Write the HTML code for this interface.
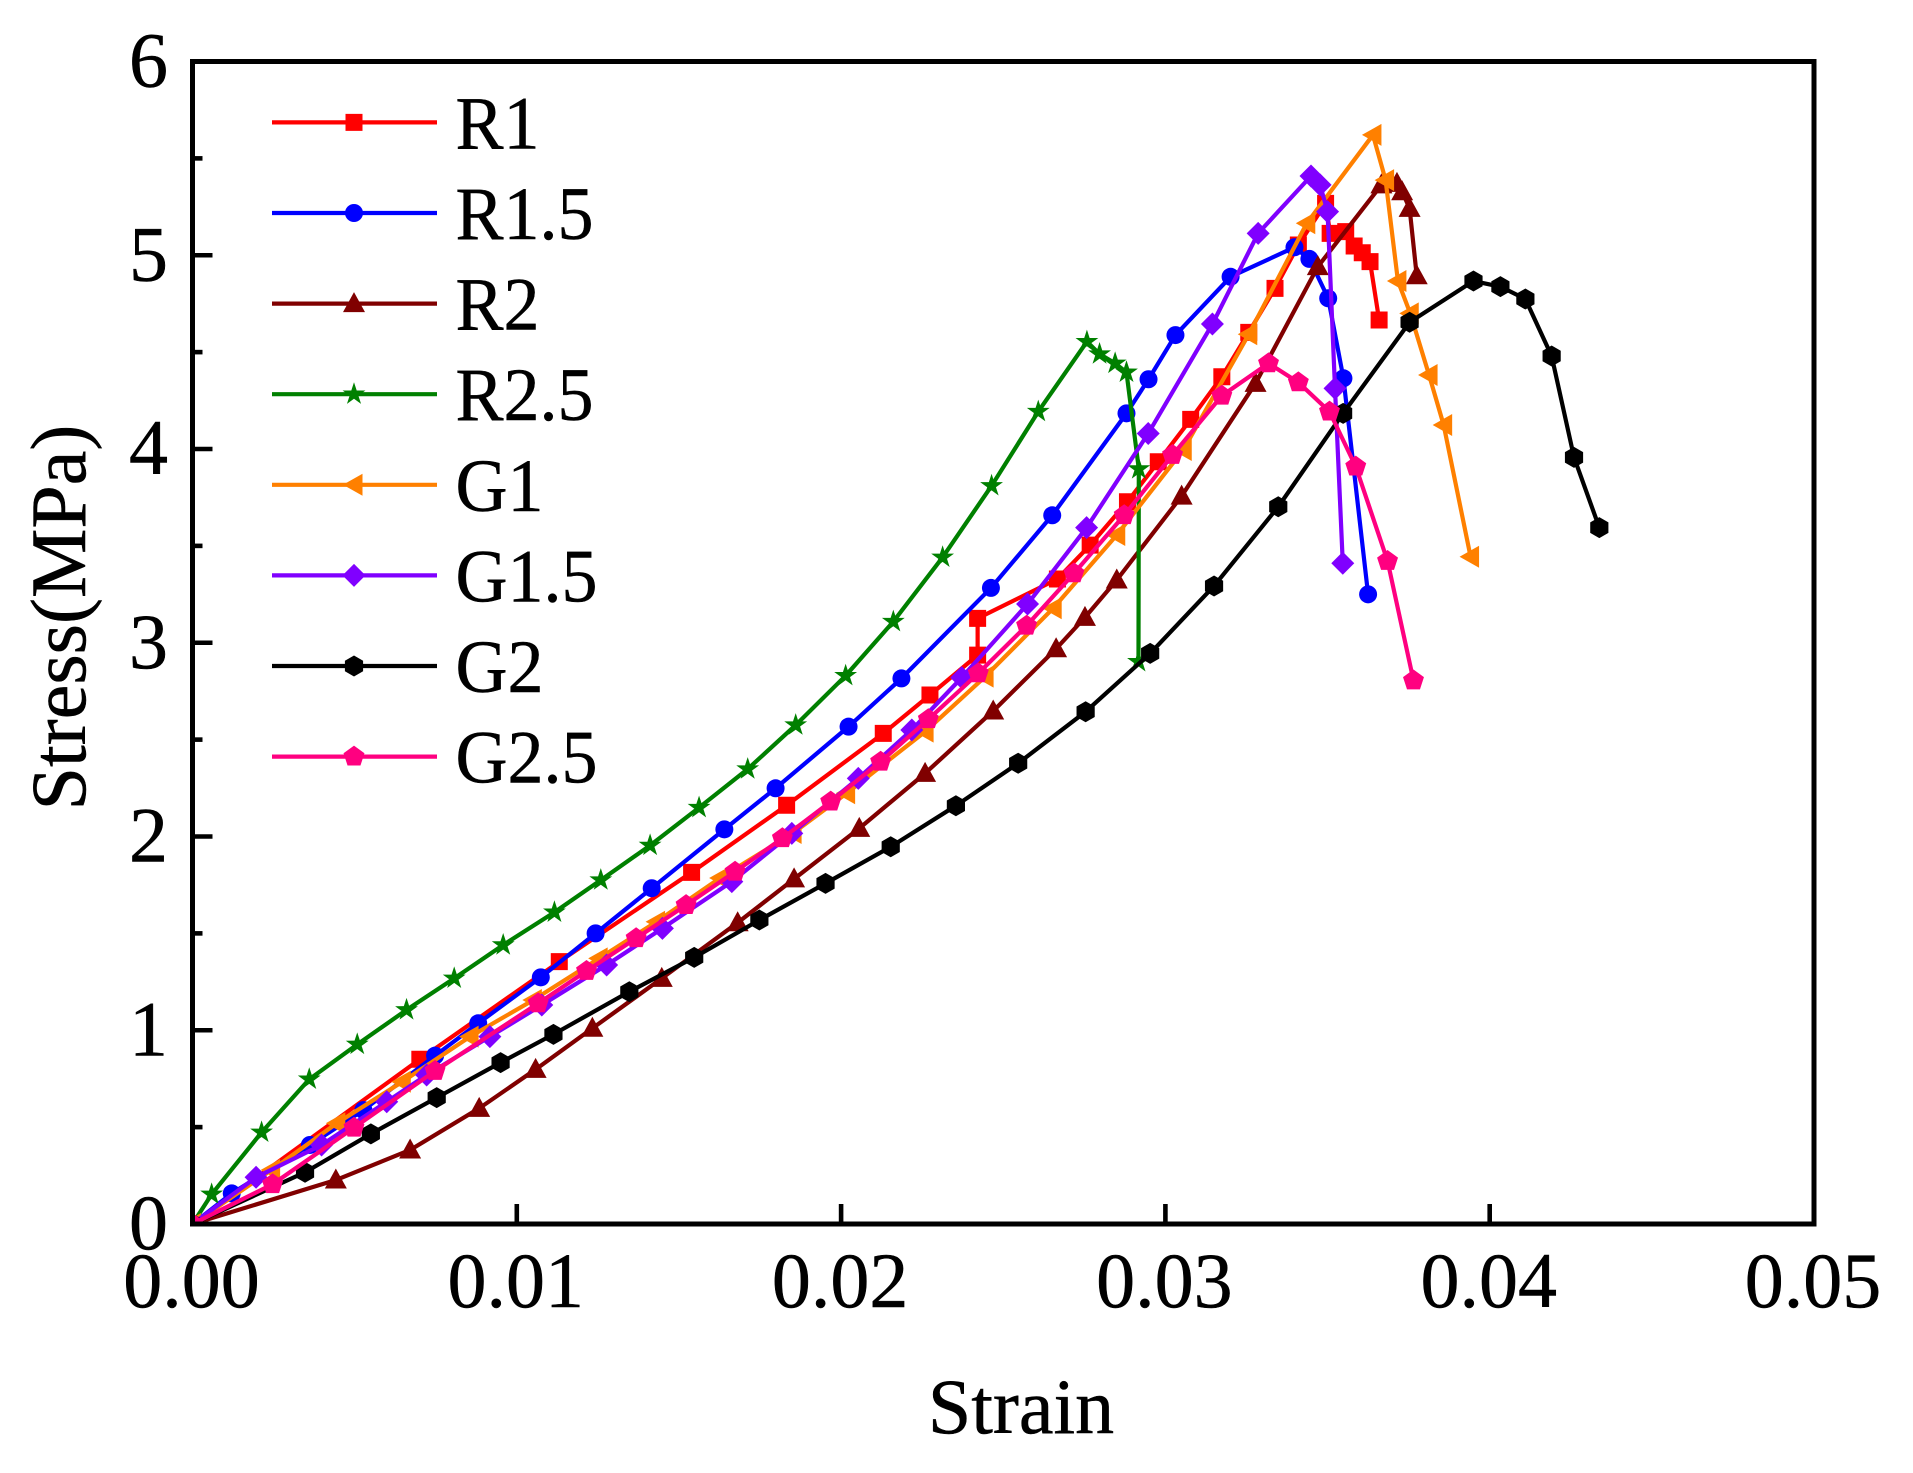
<!DOCTYPE html>
<html lang="en">
<head>
<meta charset="utf-8">
<title>Stress-strain curves</title>
<style>
  html, body { margin: 0; padding: 0; background: #fff; }
  svg { display: block; }
  text { font-family: "Liberation Serif", "Times New Roman", serif; fill: #000; stroke: #000; stroke-width: 0.5px; }
</style>
</head>
<body>
<svg id="chart" xmlns="http://www.w3.org/2000/svg" width="1913" height="1473" viewBox="0 0 1913 1473">
  <rect x="0" y="0" width="1913" height="1473" fill="#ffffff"/>
  <defs><clipPath id="plot-clip"><rect x="192.5" y="61.5" width="1621.5" height="1162.5"/></clipPath></defs>
  <g id="series-layer" clip-path="url(#plot-clip)"></g>
  <rect x="192.5" y="61.5" width="1621.5" height="1162.5" fill="none" stroke="#000" stroke-width="5"/>
  <g id="axis-layer"></g>
  <text x="1021" y="1433" font-size="78" text-anchor="middle">Strain</text>
  <text transform="translate(85 617.5) rotate(-90)" font-size="78" text-anchor="middle">Stress(MPa)</text>
  <g id="legend-layer"></g>
</svg>
<script>
const xTickValues = [0, 0.01, 0.02, 0.03, 0.04, 0.05];
const xTickLabels = ["0.00", "0.01", "0.02", "0.03", "0.04", "0.05"];
const yTickValues = [0, 1, 2, 3, 4, 5, 6];
const yTickLabels = ["0", "1", "2", "3", "4", "5", "6"];
const yMinorTickValues = [0.5, 1.5, 2.5, 3.5, 4.5, 5.5];
const seriesNames = ["R1", "R1.5", "R2", "R2.5", "G1", "G1.5", "G2", "G2.5"];

const r1Strain = [0, 0.00701, 0.01131, 0.01539, 0.01832, 0.0213, 0.02274, 0.02421, 0.02421, 0.02667, 0.02768, 0.02883, 0.02978, 0.03078, 0.03174, 0.03257, 0.03338, 0.0341, 0.03494, 0.03508, 0.03556, 0.03582, 0.03607, 0.03631, 0.03659];
const r1Stress = [0, 0.85, 1.354, 1.815, 2.161, 2.532, 2.73, 2.936, 3.126, 3.329, 3.504, 3.728, 3.934, 4.153, 4.373, 4.602, 4.829, 5.053, 5.268, 5.113, 5.122, 5.048, 5.013, 4.967, 4.666];

const r15Strain = [0, 0.00121, 0.00362, 0.00527, 0.00748, 0.00881, 0.01074, 0.01243, 0.01416, 0.0164, 0.01798, 0.02023, 0.02186, 0.02462, 0.02651, 0.0288, 0.02948, 0.03031, 0.03201, 0.03398, 0.03444, 0.03502, 0.03549, 0.03625];
const r15Stress = [0, 0.158, 0.408, 0.588, 0.869, 1.036, 1.273, 1.5, 1.733, 2.037, 2.249, 2.567, 2.816, 3.283, 3.658, 4.184, 4.36, 4.588, 4.889, 5.041, 4.981, 4.778, 4.365, 3.25];

const r2Strain = [0, 0.00442, 0.00671, 0.00884, 0.01058, 0.01233, 0.01447, 0.01681, 0.01855, 0.02056, 0.02259, 0.02469, 0.02663, 0.02752, 0.0285, 0.0305, 0.03278, 0.0347, 0.03666, 0.03714, 0.0373, 0.03753, 0.03775];
const r2Stress = [0, 0.227, 0.382, 0.597, 0.798, 1.01, 1.268, 1.555, 1.781, 2.042, 2.326, 2.648, 2.969, 3.131, 3.324, 3.757, 4.339, 4.941, 5.363, 5.371, 5.328, 5.242, 4.894];

const r25Strain = [0, 0.00059, 0.00213, 0.0036, 0.00508, 0.0066, 0.00807, 0.00958, 0.01116, 0.01259, 0.01411, 0.01562, 0.01712, 0.0186, 0.02014, 0.02161, 0.02313, 0.02464, 0.02608, 0.02758, 0.02797, 0.02845, 0.0288, 0.02918, 0.02917];
const r25Stress = [0, 0.153, 0.473, 0.747, 0.927, 1.105, 1.268, 1.44, 1.609, 1.775, 1.954, 2.149, 2.348, 2.575, 2.83, 3.109, 3.441, 3.81, 4.193, 4.554, 4.49, 4.442, 4.396, 3.897, 2.902];

const g1Strain = [0, 0.00244, 0.00445, 0.00647, 0.00856, 0.01051, 0.01254, 0.01431, 0.01627, 0.01852, 0.02017, 0.02259, 0.02444, 0.02654, 0.0285, 0.03055, 0.03257, 0.03436, 0.0364, 0.03679, 0.03717, 0.03755, 0.03813, 0.03858, 0.03941];
const g1Stress = [0, 0.279, 0.52, 0.734, 0.967, 1.156, 1.371, 1.56, 1.786, 2.018, 2.223, 2.541, 2.825, 3.178, 3.556, 3.995, 4.592, 5.165, 5.621, 5.388, 4.867, 4.7, 4.382, 4.124, 3.444];

const g15Strain = [0, 0.00196, 0.00398, 0.00599, 0.00722, 0.00917, 0.01077, 0.01277, 0.01449, 0.01663, 0.01848, 0.02053, 0.02218, 0.02372, 0.02575, 0.02757, 0.02947, 0.03145, 0.03286, 0.03449, 0.03477, 0.035, 0.03523, 0.03547];
const g15Stress = [0, 0.241, 0.408, 0.631, 0.769, 0.967, 1.13, 1.337, 1.526, 1.767, 2.016, 2.3, 2.55, 2.82, 3.2, 3.594, 4.08, 4.645, 5.113, 5.409, 5.363, 5.225, 4.313, 3.41];

const g2Strain = [0, 0.00347, 0.0055, 0.00753, 0.0095, 0.01113, 0.01347, 0.01547, 0.01748, 0.01952, 0.02153, 0.02354, 0.02546, 0.02754, 0.02953, 0.0315, 0.03348, 0.03548, 0.03753, 0.0395, 0.04033, 0.0411, 0.04191, 0.0426, 0.04338];
const g2Stress = [0, 0.267, 0.465, 0.652, 0.833, 0.979, 1.199, 1.376, 1.569, 1.758, 1.947, 2.159, 2.378, 2.644, 2.945, 3.293, 3.702, 4.184, 4.654, 4.867, 4.838, 4.774, 4.48, 3.957, 3.594];

const g25Strain = [0, 0.00247, 0.00498, 0.00748, 0.01066, 0.01215, 0.01368, 0.01522, 0.01673, 0.01819, 0.01968, 0.02122, 0.02269, 0.02423, 0.02572, 0.02718, 0.02873, 0.03022, 0.03174, 0.03318, 0.0341, 0.03506, 0.03587, 0.03685, 0.03765];
const g25Stress = [0, 0.205, 0.497, 0.79, 1.139, 1.306, 1.475, 1.646, 1.818, 1.991, 2.18, 2.386, 2.605, 2.842, 3.088, 3.358, 3.658, 3.969, 4.275, 4.442, 4.344, 4.193, 3.909, 3.422, 2.805];

const strainSeries = [r1Strain, r15Strain, r2Strain, r25Strain, g1Strain, g15Strain, g2Strain, g25Strain];
const stressSeries = [r1Stress, r15Stress, r2Stress, r25Stress, g1Stress, g15Stress, g2Stress, g25Stress];
const seriesColors = ["#ff0000", "#0000ff", "#800000", "#008000", "#ff8000", "#8000ff", "#000000", "#ff0080"];
const seriesShapes = ["square", "circle", "triangle", "star", "leftTriangle", "diamond", "hexagon", "pentagon"];

const SVG_NS = "http://www.w3.org/2000/svg";
const plotLeft = 192.5, plotRight = 1814, plotTop = 61.5, plotBottom = 1224;
const xMax = 0.05, yMax = 6;
function xScale(v) { return plotLeft + (v / xMax) * (plotRight - plotLeft); }
function yScale(v) { return plotBottom - (v / yMax) * (plotBottom - plotTop); }

function polygonPath(pts, cx, cy) {
  return "M" + pts.map(p => (cx + p[0]).toFixed(2) + " " + (cy + p[1]).toFixed(2)).join("L") + "Z";
}
function radial(n, r, start) {
  const pts = [];
  for (let i = 0; i < n; i++) {
    const a = start + i * 2 * Math.PI / n;
    pts.push([r * Math.cos(a), r * Math.sin(a)]);
  }
  return pts;
}
function starPoints(R, r) {
  const pts = [];
  for (let i = 0; i < 10; i++) {
    const a = -Math.PI / 2 + i * Math.PI / 5;
    const d = i % 2 ? r : R;
    pts.push([d * Math.cos(a), d * Math.sin(a)]);
  }
  return pts;
}
function markerPath(shape, cx, cy) {
  if (shape === "square") return polygonPath([[-8.5, -8.5], [8.5, -8.5], [8.5, 8.5], [-8.5, 8.5]], cx, cy);
  if (shape === "circle") return "M" + (cx - 9) + " " + cy + "a9 9 0 1 0 18 0a9 9 0 1 0 -18 0Z";
  if (shape === "triangle") return polygonPath([[0, -11.5], [11, 8.5], [-11, 8.5]], cx, cy);
  if (shape === "leftTriangle") return polygonPath([[-11, 0], [8.5, -11], [8.5, 11]], cx, cy);
  if (shape === "diamond") return polygonPath([[0, -11.5], [11.5, 0], [0, 11.5], [-11.5, 0]], cx, cy);
  if (shape === "hexagon") return polygonPath(radial(6, 10.5, -Math.PI / 2), cx, cy);
  if (shape === "pentagon") return polygonPath(radial(5, 11, -Math.PI / 2), cx, cy);
  return polygonPath(starPoints(12, 4.6), cx, cy);
}
function svgEl(tag) { return document.createElementNS(SVG_NS, tag); }

const axisLayer = document.getElementById("axis-layer");
function tickLine(x1, y1, x2, y2, name) {
  const line = svgEl("line");
  line.setAttribute("x1", x1);
  line.setAttribute("y1", y1);
  line.setAttribute("x2", x2);
  line.setAttribute("y2", y2);
  line.setAttribute("stroke", "#000");
  line.setAttribute("stroke-width", "4.6");
  
  
  axisLayer.appendChild(line);
}
function tickText(x, y, label, anchor, name) {
  const t = svgEl("text");
  t.setAttribute("x", x);
  t.setAttribute("y", y);
  t.setAttribute("font-size", "78");
  t.setAttribute("text-anchor", anchor);
  
  
  t.textContent = label;
  axisLayer.appendChild(t);
}
xTickValues.forEach((v, i) => {
  const x = xScale(v);
  if (i > 0 && i < xTickValues.length - 1) tickLine(x, plotBottom, x, plotBottom - 20, "x-tick");
  tickText(x - 1, 1307, xTickLabels[i], "middle", "x-tick-label");
});
yTickValues.forEach((v, i) => {
  const y = yScale(v);
  if (i > 0 && i < yTickValues.length - 1) tickLine(plotLeft, y, plotLeft + 20, y, "y-tick");
  tickText(168, y + 25, yTickLabels[i], "end", "y-tick-label");
});
yMinorTickValues.forEach(v => {
  const y = yScale(v);
  tickLine(plotLeft, y, plotLeft + 10, y, "y-minor-tick");
});

const seriesLayer = document.getElementById("series-layer");
seriesNames.forEach((name, s) => {
  const g = svgEl("g");
  
  
  const xs = strainSeries[s], ys = stressSeries[s];
  const line = svgEl("polyline");
  line.setAttribute("points", xs.map((x, i) => xScale(x).toFixed(2) + "," + yScale(ys[i]).toFixed(2)).join(" "));
  line.setAttribute("fill", "none");
  line.setAttribute("stroke", seriesColors[s]);
  line.setAttribute("stroke-width", "4.2");
  line.setAttribute("stroke-linejoin", "round");
  
  
  g.appendChild(line);
  xs.forEach((x, i) => {
    const m = svgEl("path");
    m.setAttribute("d", markerPath(seriesShapes[s], xScale(x), yScale(ys[i])));
    m.setAttribute("fill", seriesColors[s]);
    
    
    g.appendChild(m);
  });
  seriesLayer.appendChild(g);
});

const legendLayer = document.getElementById("legend-layer");
const legendStartY = 122.4, legendStepY = 90.6;
seriesNames.forEach((name, s) => {
  const y = legendStartY + s * legendStepY;
  const g = svgEl("g");
  
  
  const line = svgEl("line");
  line.setAttribute("x1", 272);
  line.setAttribute("x2", 437);
  line.setAttribute("y1", y);
  line.setAttribute("y2", y);
  line.setAttribute("stroke", seriesColors[s]);
  line.setAttribute("stroke-width", "4.2");
  
  
  g.appendChild(line);
  const m = svgEl("path");
  m.setAttribute("d", markerPath(seriesShapes[s], 354, y));
  m.setAttribute("fill", seriesColors[s]);
  
  
  g.appendChild(m);
  const t = svgEl("text");
  t.setAttribute("transform", "translate(455.5 " + (y + 26) + ") scale(0.96 1)");
  t.setAttribute("font-size", "75");
  
  
  t.textContent = name;
  g.appendChild(t);
  legendLayer.appendChild(g);
});
</script>
</body>
</html>
